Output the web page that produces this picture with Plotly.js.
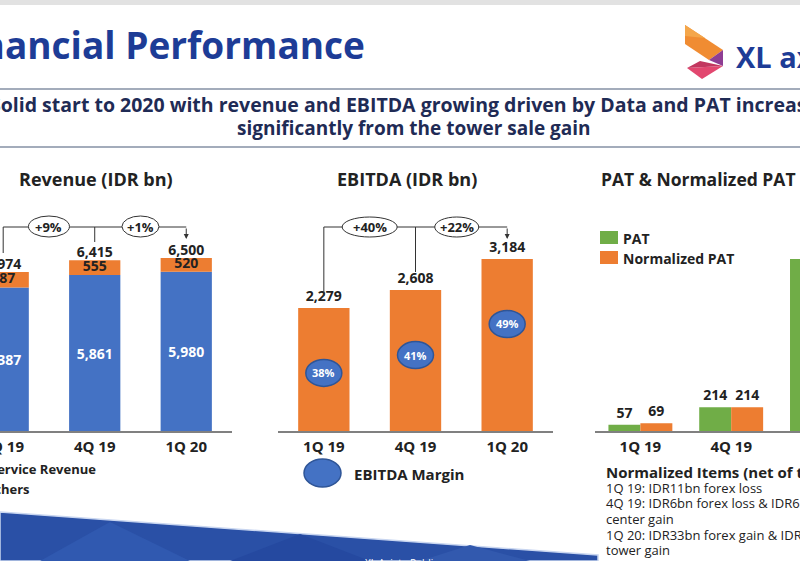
<!DOCTYPE html>
<html><head><meta charset="utf-8">
<script src="https://cdn.plot.ly/plotly-3.0.1.min.js"></script>
<style>html,body{margin:0;padding:0;background:#fff}#c{width:800px;height:561px}</style>
</head><body><div id="c"></div>
<script>
// ---- data ----
const quarters = ["1Q 19", "4Q 19", "1Q 20"];
const serviceRevenue = [5387, 5861, 5980];
const otherRevenue = [587, 555, 520];
const revenueTotal = [5974, 6415, 6500];
const revenueGrowth = ["+9%", "+1%"];
const ebitda = [2279, 2608, 3184];
const ebitdaMargin = ["38%", "41%", "49%"];
const ebitdaGrowth = ["+40%", "+22%"];
const pat = [57, 214, 1549];
const normalizedPat = [69, 214, null];
const normalizedNotes = [
  "1Q 19: IDR11bn forex loss",
  "4Q 19: IDR6bn forex loss & IDR62bn data",
  "center gain",
  "1Q 20: IDR33bn forex gain & IDR1,4bn",
  "tower gain"
];

// ---- helpers (pixel -> paper) ----
const W = 800, H = 561;
const px = p => p / W;
const py = p => 1 - p / H;

const F = "Open Sans, Lato, sans-serif";
const BLUE = "#4472c4", ORANGE = "#ed7d31", GREEN = "#70ad47", DARK = "#222222";
const idx = quarters.map((_, i) => i);
const yDom = [py(431), py(200)];

const traces = [
  // Revenue
  {type: "bar", x: idx, y: serviceRevenue, xaxis: "x", yaxis: "y", width: 0.56,
   marker: {color: BLUE}, text: serviceRevenue.map(v => v.toLocaleString("en-US")),
   textposition: "inside", insidetextanchor: "middle", constraintext: "none",
   textfont: {family: F, size: 14, color: "#ffffff", weight: "bold"}, hoverinfo: "skip"},
  {type: "bar", x: idx, y: otherRevenue, base: serviceRevenue, xaxis: "x", yaxis: "y", width: 0.56,
   marker: {color: ORANGE}, hoverinfo: "skip"},
  {type: "scatter", mode: "text", x: idx, y: serviceRevenue.map((s, i) => s + otherRevenue[i] / 2),
   text: otherRevenue.map(v => v.toLocaleString("en-US")), textposition: "middle center",
   xaxis: "x", yaxis: "y", cliponaxis: false,
   textfont: {family: F, size: 14, color: DARK, weight: "bold"}, hoverinfo: "skip"},
  {type: "scatter", mode: "text", x: idx, y: revenueTotal,
   text: revenueTotal.map(v => v.toLocaleString("en-US")), textposition: "top center",
   xaxis: "x", yaxis: "y", cliponaxis: false,
   textfont: {family: F, size: 14, color: DARK, weight: "bold"}, hoverinfo: "skip"},
  // EBITDA
  {type: "bar", x: idx, y: ebitda, xaxis: "x2", yaxis: "y2", width: 0.56,
   marker: {color: ORANGE}, texttemplate: "%{y:,.0f}", textposition: "outside", cliponaxis: false,
   textfont: {family: F, size: 14, color: DARK, weight: "bold"}, hoverinfo: "skip"},
  // PAT
  {type: "bar", x: idx, y: pat, xaxis: "x3", yaxis: "y3", width: 0.352, offset: -0.352,
   marker: {color: GREEN}, texttemplate: "%{y:,.0f}", textposition: "outside", cliponaxis: false,
   textfont: {family: F, size: 14, color: DARK, weight: "bold"}, hoverinfo: "skip"},
  {type: "bar", x: idx, y: normalizedPat, xaxis: "x3", yaxis: "y3", width: 0.352, offset: 0,
   marker: {color: ORANGE}, texttemplate: "%{y:,.0f}", textposition: "outside", cliponaxis: false,
   textfont: {family: F, size: 14, color: DARK, weight: "bold"}, hoverinfo: "skip"}
];

const xBase = {tickvals: idx, ticktext: quarters, showline: true, linecolor: "#808080", linewidth: 1.5,
  ticks: "", showgrid: false, zeroline: false, fixedrange: true, ticklabelstandoff: 1, ticklabeloverflow: "allow",
  tickfont: {family: F, size: 15, color: DARK, weight: "bold"}};
const yBase = {visible: false, showgrid: false, zeroline: false, domain: yDom, fixedrange: true};

const shapes = [];
const ann = [];
const note = (x, y, text, size, opts) => ann.push(Object.assign({xref: "paper", yref: "paper", x: px(x), y: py(y),
  text: text, showarrow: false, xanchor: "center", yanchor: "middle", font: {family: F, size: size, color: DARK}}, opts || {}));

// top grey strip
shapes.push({type: "rect", xref: "paper", yref: "paper", x0: 0, x1: 1, y0: py(5), y1: py(0), fillcolor: "#e2e2e2", line: {width: 0}});
// rules
shapes.push({type: "rect", xref: "paper", yref: "paper", x0: 0, x1: 1, y0: py(90), y1: py(88), fillcolor: "#a3acbb", line: {width: 0}});
shapes.push({type: "rect", xref: "paper", yref: "paper", x0: 0, x1: 1, y0: py(148), y1: py(146), fillcolor: "#a3acbb", line: {width: 0}});

// logo
shapes.push({type: "path", xref: "paper", yref: "paper", path: `M ${px(685)} ${py(25)} L ${px(723)} ${py(50)} L ${px(709)} ${py(60)} L ${px(685)} ${py(44)} Z`, fillcolor: "#f08c32", line: {width: 0}});
shapes.push({type: "path", xref: "paper", yref: "paper", path: `M ${px(685)} ${py(25)} L ${px(705)} ${py(38)} L ${px(685)} ${py(36)} Z`, fillcolor: "#f4a64a", line: {width: 0}});
shapes.push({type: "path", xref: "paper", yref: "paper", path: `M ${px(709)} ${py(60)} L ${px(723)} ${py(50)} L ${px(723)} ${py(66)} Z`, fillcolor: "#8e3d93", line: {width: 0}});
shapes.push({type: "path", xref: "paper", yref: "paper", path: `M ${px(687)} ${py(68)} L ${px(723)} ${py(66)} L ${px(702)} ${py(79)} Z`, fillcolor: "#e2476f", line: {width: 0}});
shapes.push({type: "path", xref: "paper", yref: "paper", path: `M ${px(700)} ${py(61)} L ${px(723)} ${py(66)} L ${px(687)} ${py(68)} Z`, fillcolor: "#c2375f", line: {width: 0}});

// bottom band
shapes.push({type: "path", xref: "paper", yref: "paper", path: `M 0 ${py(512)} L ${px(598)} ${py(555)} L ${px(598)} ${py(561)} L 0 ${py(561)} Z`, fillcolor: "#2a50a6", line: {color: "#c9d6f0", width: 1.5}, layer: "below"});
shapes.push({type: "path", xref: "paper", yref: "paper", path: `M ${px(40)} ${py(561)} L ${px(110)} ${py(522)} L ${px(190)} ${py(561)} Z`, fillcolor: "#3059b0", line: {width: 0}, layer: "below"});
shapes.push({type: "path", xref: "paper", yref: "paper", path: `M ${px(230)} ${py(561)} L ${px(300)} ${py(534)} L ${px(370)} ${py(561)} Z`, fillcolor: "#2549a0", line: {width: 0}, layer: "below"});
shapes.push({type: "path", xref: "paper", yref: "paper", path: `M ${px(420)} ${py(561)} L ${px(470)} ${py(545)} L ${px(530)} ${py(561)} Z`, fillcolor: "#3259ae", line: {width: 0}, layer: "below"});

// Revenue bracket
const bl = {color: "#333333", width: 1};
shapes.push({type: "line", xref: "x", yref: "paper", x0: 0, x1: 2, y0: py(227), y1: py(227), line: bl});
shapes.push({type: "line", xref: "x", yref: "paper", x0: 0, x1: 0, y0: py(227), y1: py(253), line: bl});
shapes.push({type: "line", xref: "x", yref: "paper", x0: 1, x1: 1, y0: py(227), y1: py(242), line: bl});
[[0.5, 41], [1.5, 37]].forEach(([c, w], k) => {
  shapes.push({type: "circle", xref: "x", yref: "paper", xsizemode: "pixel", xanchor: c, x0: -w / 2, x1: w / 2,
    y0: py(237), y1: py(216), fillcolor: "#ffffff", line: {color: "#333333", width: 1}});
  ann.push({xref: "x", yref: "paper", x: c, y: py(227), xanchor: "center", yanchor: "middle",
    text: "<b>" + revenueGrowth[k] + "</b>", showarrow: false, font: {family: F, size: 13, color: DARK}});
});
ann.push({xref: "x", yref: "paper", x: 2, y: py(239), ax: 0, ay: -12, axref: "pixel", ayref: "pixel", text: "",
  showarrow: true, arrowhead: 2, arrowsize: 1, arrowwidth: 1, arrowcolor: "#333333"});

// EBITDA bracket
shapes.push({type: "line", xref: "x2", yref: "paper", x0: 0, x1: 2, y0: py(227), y1: py(227), line: bl});
shapes.push({type: "line", xref: "x2", yref: "paper", x0: 0, x1: 0, y0: py(227), y1: py(296), line: bl});
shapes.push({type: "line", xref: "x2", yref: "paper", x0: 1, x1: 1, y0: py(227), y1: py(272), line: bl});
[[0.5, 55], [1.45, 44]].forEach(([c, w], k) => {
  shapes.push({type: "circle", xref: "x2", yref: "paper", xsizemode: "pixel", xanchor: c, x0: -w / 2, x1: w / 2,
    y0: py(237), y1: py(217), fillcolor: "#ffffff", line: {color: "#333333", width: 1}});
  ann.push({xref: "x2", yref: "paper", x: c, y: py(227), xanchor: "center", yanchor: "middle",
    text: "<b>" + ebitdaGrowth[k] + "</b>", showarrow: false, font: {family: F, size: 13, color: DARK}});
});
ann.push({xref: "x2", yref: "paper", x: 2, y: py(239), ax: 0, ay: -12, axref: "pixel", ayref: "pixel", text: "",
  showarrow: true, arrowhead: 2, arrowsize: 1, arrowwidth: 1, arrowcolor: "#333333"});

// EBITDA margin ellipses
ebitda.forEach((v, i) => {
  shapes.push({type: "circle", xref: "x2", yref: "y2", xsizemode: "pixel", ysizemode: "pixel",
    xanchor: i, yanchor: v, x0: -18, x1: 18, y0: -65 - 13.5, y1: -65 + 13.5,
    fillcolor: BLUE, line: {color: "#2f5597", width: 1.5}});
  ann.push({xref: "x2", yref: "y2", x: i, y: v, yshift: -65, xanchor: "center", yanchor: "middle",
    text: "<b>" + ebitdaMargin[i] + "</b>", showarrow: false, font: {family: F, size: 11, color: "#ffffff"}});
});

// Revenue legend (markers off-canvas left)
shapes.push({type: "rect", xref: "paper", yref: "paper", x0: px(-40), x1: px(-24), y0: py(476), y1: py(462), fillcolor: BLUE, line: {width: 0}});
shapes.push({type: "rect", xref: "paper", yref: "paper", x0: px(-40), x1: px(-24), y0: py(496), y1: py(482), fillcolor: ORANGE, line: {width: 0}});
note(-12, 469, "<b>Service Revenue</b>", 13, {xanchor: "left"});
note(-17, 489, "<b>Others</b>", 13, {xanchor: "left"});

// EBITDA legend
shapes.push({type: "circle", xref: "paper", yref: "paper", x0: px(304), x1: px(341), y0: py(487), y1: py(459), fillcolor: BLUE, line: {color: "#2f5597", width: 1.5}});
note(352, 474, "<b>EBITDA Margin</b>", 15, {xanchor: "left"});

// PAT legend
shapes.push({type: "rect", xref: "paper", yref: "paper", x0: px(600), x1: px(618), y0: py(244), y1: py(231), fillcolor: GREEN, line: {width: 0}});
shapes.push({type: "rect", xref: "paper", yref: "paper", x0: px(600), x1: px(618), y0: py(264), y1: py(251), fillcolor: ORANGE, line: {width: 0}});
note(621, 238, "<b>PAT</b>", 14, {xanchor: "left"});
note(621, 258, "<b>Normalized PAT</b>", 14, {xanchor: "left"});

// chart titles
note(96, 179, "<b>Revenue (IDR bn)</b>", 18);
note(407, 179, "<b>EBITDA (IDR bn)</b>", 18);
note(599, 179, "<b>PAT & Normalized PAT (IDR bn)</b>", 17.5, {xanchor: "left"});

// Normalized items
note(604, 472, "<b>Normalized Items (net of tax)</b>", 15, {xanchor: "left"});
const noteY = [488, 503, 519, 535, 550];
normalizedNotes.forEach((t, i) => note(604, noteY[i], t, 13, {xanchor: "left"}));

// header
note(367, 45, "<b>Financial Performance</b>", 37, {xanchor: "right", font: {family: F, size: 37, color: "#1d3c96"}});
note(734, 56, "<b>XL axiata</b>", 29, {xanchor: "left", font: {family: F, size: 29, color: "#1d3c96"}});
note(-12, 105, "<b>Solid start to 2020 with revenue and EBITDA growing driven by Data and PAT increased</b>", 19.5, {xanchor: "left", font: {family: F, size: 19.5, color: "#1f2b55"}});
note(414, 128, "<b>significantly from the tower sale gain</b>", 19, {font: {family: F, size: 19, color: "#1f2b55"}});
// footer
note(402, 563, "XL Axiata Public", 10, {font: {family: F, size: 10, color: "#ffffff"}});

const layout = {
  width: W, height: H, margin: {l: 0, r: 0, t: 0, b: 0},
  paper_bgcolor: "#ffffff", plot_bgcolor: "rgba(0,0,0,0)",
  showlegend: false, barmode: "overlay", font: {family: F},
  xaxis: Object.assign({}, xBase, {domain: [0, px(232)], range: [-0.035, 2.5], anchor: "y"}),
  yaxis: Object.assign({}, yBase, {range: [0, 8679], anchor: "x"}),
  xaxis2: Object.assign({}, xBase, {domain: [px(278), px(553)], range: [-0.5, 2.5], anchor: "y2"}),
  yaxis2: Object.assign({}, yBase, {range: [0, 4276], anchor: "x2"}),
  xaxis3: Object.assign({}, xBase, {domain: [px(595), 1], range: [-0.5, 1.758], anchor: "y3"}),
  yaxis3: Object.assign({}, yBase, {range: [0, 2080], anchor: "x3"}),
  shapes: shapes, annotations: ann
};

Plotly.newPlot("c", traces, layout, {staticPlot: true, displayModeBar: false});
</script></body></html>
